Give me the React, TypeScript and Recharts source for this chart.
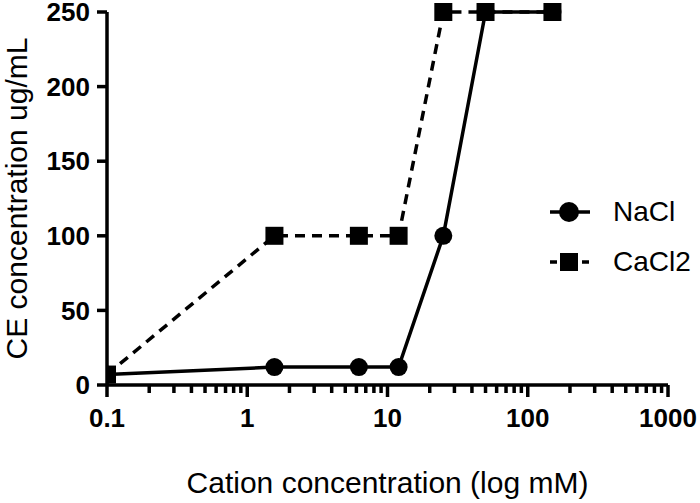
import React from 'react';
import { LineChart, Line, XAxis, YAxis, Legend, Label } from 'recharts';

const concentrations = [0.1, 1.5625, 6.25, 12, 25, 50, 150];
const naclValues = [7, 12, 12, 12, 100, 250, 250];
const cacl2Values = [7, 100, 100, 100, 250, 250, 250];
const majorTicks = [0.1, 1, 10, 100, 1000];
const minorSteps = [2, 3, 4, 5, 6, 7, 8, 9];
const yTicks = [0, 50, 100, 150, 200, 250];
const seriesNames = ['NaCl', 'CaCl2'];

const data = concentrations.map((c, i) => ({ c, nacl: naclValues[i], cacl2: cacl2Values[i] }));

const xTicks = [
  ...majorTicks,
  ...majorTicks.slice(0, -1).flatMap((m) => minorSteps.map((s) => +(m * s).toPrecision(3))),
].sort((a, b) => a - b);

const FONT = '"Liberation Sans", Arial, Helvetica, sans-serif';
const DASH = '10 7';

function XTick({ x, y, payload }: any) {
  const major = majorTicks.includes(payload.value);
  return (
    <g>
      <line x1={x} x2={x} y1={y} y2={y + (major ? 12 : 8)} stroke="#000" strokeWidth={3.5} />
      {major && (
        <text x={x} y={y + 42} textAnchor="middle" fontSize={26} fontWeight="bold" fontFamily={FONT} fill="#000">
          {payload.value}
        </text>
      )}
    </g>
  );
}

function SquareDot(props: any) {
  const { cx, cy } = props;
  return <rect x={cx - 9} y={cy - 9} width={18} height={18} fill="#000" />;
}

function LegendContent() {
  return (
    <div style={{ fontFamily: FONT }}>
      {seriesNames.map((name, i) => (
        <div key={name} style={{ display: 'flex', alignItems: 'center', height: 50 }}>
          <svg width={40} height={50}>
            <line
              x1={0}
              x2={40}
              y1={25}
              y2={25}
              stroke="#000"
              strokeWidth={3.5}
              strokeDasharray={i === 1 ? '7 9' : undefined}
            />
            {i === 0 ? <circle cx={19} cy={25} r={10} fill="#000" /> : <rect x={10} y={16} width={18} height={18} fill="#000" />}
          </svg>
          <span style={{ marginLeft: 23, fontSize: 28, color: '#000', lineHeight: 1 }}>{name}</span>
        </div>
      ))}
    </div>
  );
}

export default function App() {
  return (
    <div style={{ position: 'absolute', left: 0, top: 0, background: '#fff' }}>
      <LineChart width={700} height={503} data={data} margin={{ top: 12, right: 32, bottom: 0, left: 0 }}>
        <XAxis
          dataKey="c"
          type="number"
          scale="log"
          domain={[0.1, 1000]}
          ticks={xTicks}
          interval={0}
          height={118}
          tick={<XTick />}
          tickLine={false}
          tickSize={0}
          tickMargin={0}
          axisLine={{ stroke: '#000', strokeWidth: 3.5 }}
          allowDataOverflow
        >
          <Label
            content={({ viewBox }: any) => (
              <text
                x={viewBox.x + viewBox.width / 2}
                y={viewBox.y + 108}
                textAnchor="middle"
                fontSize={30}
                fontFamily={FONT}
                fill="#000"
              >
                Cation concentration (log mM)
              </text>
            )}
          />
        </XAxis>
        <YAxis
          type="number"
          domain={[0, 250]}
          ticks={yTicks}
          interval={0}
          width={107}
          tickSize={10}
          tickMargin={7}
          tick={{ fontSize: 26, fontWeight: 'bold', fontFamily: FONT, fill: '#000' }}
          tickLine={{ stroke: '#000', strokeWidth: 3.5 }}
          axisLine={{ stroke: '#000', strokeWidth: 3.5 }}
        >
          <Label
            content={({ viewBox }: any) => {
              const cx = 27;
              const cy = viewBox.y + viewBox.height / 2;
              return (
                <text
                  x={cx}
                  y={cy}
                  transform={`rotate(-90, ${cx}, ${cy})`}
                  textAnchor="middle"
                  fontSize={30}
                  fontFamily={FONT}
                  fill="#000"
                >
                  CE concentration ug/mL
                </text>
              );
            }}
          />
        </YAxis>
        <Legend
          layout="vertical"
          align="center"
          verticalAlign="middle"
          wrapperStyle={{ left: 550, top: 187, width: 150 }}
          content={<LegendContent />}
        />
        <Line
          dataKey="nacl"
          name="NaCl"
          stroke="#000"
          strokeWidth={3.5}
          dot={{ r: 9, fill: '#000', stroke: '#000', strokeWidth: 0 }}
          isAnimationActive={false}
        />
        <Line
          dataKey="cacl2"
          name="CaCl2"
          stroke="#000"
          strokeWidth={3.5}
          strokeDasharray={DASH}
          dot={(p: any) => <SquareDot key={`sq-${p.index}`} {...p} />}
          isAnimationActive={false}
        />
      </LineChart>
    </div>
  );
}
